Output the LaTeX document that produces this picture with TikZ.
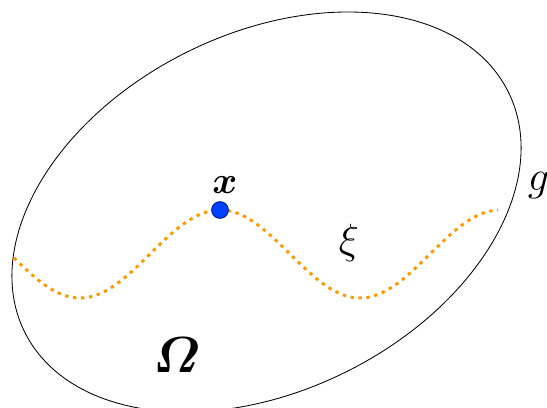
\RequirePackage{fix-cm}
\documentclass[tikz,border=0pt]{standalone}
\usepackage{amsmath, amssymb, bm}
\usepackage{tikz}
\usetikzlibrary{calc}
\usetikzlibrary{positioning}
\usepackage{xcolor}
\definecolor{curveorange}{rgb}{1,0.6,0}
\definecolor{dotblue}{rgb}{0,0.25,1}
\definecolor{dotrim}{rgb}{0,0.1,0.6}

\begin{document}
\begin{tikzpicture}[
		lbl/.style = {inner sep=0pt, font=\fontsize{27}{30}\selectfont},
		sym/.style = {inner sep=0pt, font=\fontsize{30}{33}\selectfont},
		big/.style = {inner sep=0pt, font=\fontsize{36}{40}\selectfont},
		pt/.style = {circle, draw=dotrim, fill=dotblue, line width=0.6pt, minimum size=0.42cm, inner sep=0pt},
		bdry/.style = {line width=0.6pt, black},
		path/.style = {curveorange, line width=2.1pt, dash pattern=on 2.4pt off 3.3pt}
		]
		\useasboundingbox (0, 0) rectangle (13.675, 10.175);
		
		%Domain
		\draw[bdry]	(6.6625, 4.875)	ellipse [x radius=6.75, y radius=4.465, rotate=26.4];
		
		%Curve
		\draw[path]	plot[domain=0.35:12.45, samples=120, smooth]	(\x, {3.825 + 1.1*cos(360*(\x-5.5)/7)});
		
		%Nodes
		\node[pt]	(p)		at	(5.5, 4.925)	{};
		\node[lbl]	(xl)	at	(5.62, 5.55)	{$\boldsymbol{x}$};
		\node[sym]	(xi)	at	(8.72, 4.09)	{$\xi$};
		\node[sym]	(g)		at	(13.46, 5.54)	{$g$};
		\node[big]	(om)	at	(4.42, 1.29)	{$\boldsymbol{\varOmega}$};
	\end{tikzpicture}
\end{document}
